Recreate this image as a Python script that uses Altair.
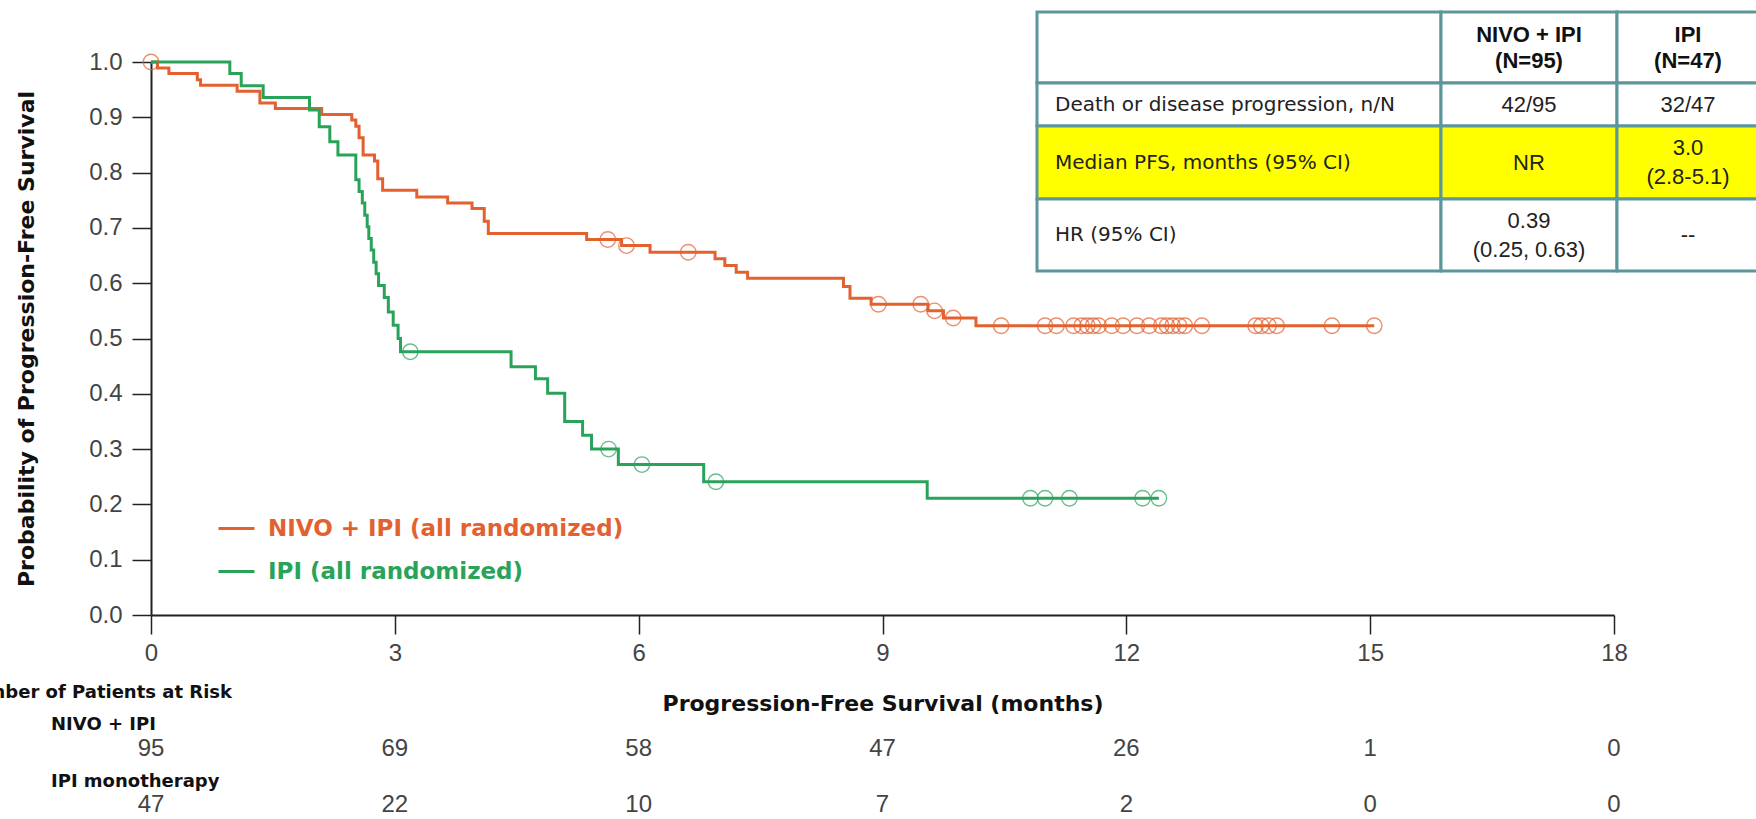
import altair as alt
import pandas as pd

NIVO = "NIVO + IPI (all randomized)"
IPI = "IPI (all randomized)"
ORANGE = "#e2612f"
GREEN = "#2aa35a"

# ---- Kaplan-Meier steps (time in months, survival after the step)
nivo_t = [0, 0.08, 0.22, 0.57, 0.61, 1.06, 1.34, 1.53, 2.10, 2.47, 2.52, 2.56, 2.61,
          2.75, 2.79, 2.85, 3.27, 3.65, 3.95, 4.10, 4.15, 5.36, 5.79, 6.14, 6.94, 7.06,
          7.20, 7.34, 8.52, 8.60, 8.86, 9.56, 9.75, 10.15, 15.05]
nivo_s = [1.0, 0.989, 0.979, 0.968, 0.958, 0.947, 0.926, 0.916, 0.905, 0.895, 0.884, 0.863, 0.832,
          0.821, 0.789, 0.768, 0.756, 0.745, 0.735, 0.712, 0.690, 0.679, 0.668, 0.656, 0.644, 0.632,
          0.620, 0.609, 0.594, 0.573, 0.562, 0.550, 0.537, 0.523, 0.523]
nivo_cens = [0.0, 5.62, 5.85, 6.61, 8.95, 9.47, 9.64, 9.87, 10.46, 11.00, 11.14, 11.35, 11.45,
             11.52, 11.59, 11.66, 11.82, 11.96, 12.13, 12.28, 12.43, 12.50, 12.57, 12.65, 12.72,
             12.93, 13.59, 13.66, 13.75, 13.85, 14.53, 15.05]

ipi_t = [0, 0.97, 1.11, 1.38, 1.95, 2.07, 2.20, 2.30, 2.52, 2.56, 2.60, 2.63, 2.66, 2.68, 2.71,
         2.74, 2.77, 2.80, 2.87, 2.92, 2.98, 3.04, 3.07, 4.43, 4.73, 4.88, 5.09, 5.31, 5.42,
         5.75, 6.80, 9.55, 12.40]
ipi_s = [1.0, 0.979, 0.957, 0.936, 0.913, 0.883, 0.856, 0.832, 0.787, 0.766, 0.745, 0.723, 0.702,
         0.681, 0.660, 0.638, 0.617, 0.596, 0.574, 0.548, 0.524, 0.500, 0.476, 0.449, 0.427,
         0.401, 0.350, 0.325, 0.300, 0.272, 0.241, 0.211, 0.211]
ipi_cens = [3.19, 5.63, 6.04, 6.95, 10.82, 11.00, 11.30, 12.20, 12.40]

# ---- number at risk
risk_times = [0, 3, 6, 9, 12, 15, 18]
risk_nivo = [95, 69, 58, 47, 26, 1, 0]
risk_ipi = [47, 22, 10, 7, 2, 0, 0]

x_ticks = [0, 3, 6, 9, 12, 15, 18]
y_ticks = [0.0, 0.1, 0.2, 0.3, 0.4, 0.5, 0.6, 0.7, 0.8, 0.9, 1.0]

# ---- summary table
table_header = ["", "NIVO + IPI\n(N=95)", "IPI\n(N=47)"]
table_rows = ["Death or disease progression, n/N", "Median PFS, months (95% CI)", "HR (95% CI)"]
table_nivo = ["42/95", "NR", "0.39\n(0.25, 0.63)"]
table_ipi = ["32/47", "3.0\n(2.8-5.1)", "--"]
highlight_row = 2  # yellow row (median PFS)

# layout of the table (pixels, relative to plot origin)
col_edges = [886, 1290, 1466, 1608]
row_edges = [-50, 21, 64, 137, 209]
VAL_LH = 29
HEAD_LH = 26

W, H = 1463, 553
FONT = "Liberation Sans, Arial, sans-serif"
BOLDFONT = "DejaVu Sans, Verdana, sans-serif"


def s_at(ts, ss, t):
    v = ss[0]
    for a, b in zip(ts, ss):
        if a <= t + 1e-9:
            v = b
    return v


curves = pd.DataFrame(
    [{"t": t, "s": s, "arm": NIVO} for t, s in zip(nivo_t, nivo_s)]
    + [{"t": t, "s": s, "arm": IPI} for t, s in zip(ipi_t, ipi_s)]
)
cens = pd.DataFrame(
    [{"t": t, "s": s_at(nivo_t, nivo_s, t), "arm": NIVO} for t in nivo_cens]
    + [{"t": t, "s": s_at(ipi_t, ipi_s, t), "arm": IPI} for t in ipi_cens]
)

xscale = alt.Scale(domain=[0, 18], nice=False, zero=False)
yscale = alt.Scale(domain=[0, 1], nice=False)
cscale = alt.Scale(domain=[NIVO, IPI], range=[ORANGE, GREEN])

xaxis = alt.Axis(values=x_ticks, format="d", grid=False, title="Progression-Free Survival (months)",
                 domainColor="#222", domainWidth=2, tickColor="#222", tickWidth=1.5, tickSize=19,
                 labelFont=FONT, labelFontSize=24, labelColor="#444", labelPadding=7,
                 labelFlush=False, labelOverlap=False,
                 titleFont=BOLDFONT, titleFontSize=22, titleFontWeight="bold", titleColor="#111",
                 titleY=88, titleBaseline="middle")
yaxis = alt.Axis(values=y_ticks, format=".1f", grid=False,
                 title="Probability of Progression-Free Survival",
                 domainColor="#222", domainWidth=2, tickColor="#222", tickWidth=1.5, tickSize=19,
                 labelFont=FONT, labelFontSize=24, labelColor="#444", labelPadding=10,
                 labelOverlap=False,
                 titleFont=BOLDFONT, titleFontSize=22, titleFontWeight="bold", titleColor="#111",
                 titleX=-125, titleY=H / 2, titleBaseline="middle", titleAngle=-90)

legend = alt.Legend(title=None, orient="none", legendX=66, legendY=447, symbolType="stroke",
                    symbolSize=1296, symbolStrokeWidth=3, labelFont=BOLDFONT, labelFontSize=23,
                    labelFontWeight="bold", labelOffset=12, rowPadding=11, padding=0, labelLimit=0,
                    labelColor={"expr": "datum.label == '%s' ? '%s' : '%s'" % (IPI, GREEN, ORANGE)})

lines = alt.Chart(curves).mark_line(interpolate="step-after", strokeWidth=3).encode(
    x=alt.X("t:Q", scale=xscale, axis=xaxis),
    y=alt.Y("s:Q", scale=yscale, axis=yaxis),
    color=alt.Color("arm:N", scale=cscale, legend=legend),
    detail="arm:N",
)
points = alt.Chart(cens).mark_point(shape="circle", filled=False, size=240, strokeWidth=1.4,
                                    opacity=0.7).encode(
    x=alt.X("t:Q", scale=xscale),
    y=alt.Y("s:Q", scale=yscale),
    color=alt.Color("arm:N", scale=cscale, legend=None),
)

risk_df = pd.DataFrame({"t": risk_times, "nivo": risk_nivo, "ipi": risk_ipi})
risk1 = alt.Chart(risk_df).mark_text(font=FONT, fontSize=24, color="#444", baseline="middle").encode(
    x=alt.X("t:Q", scale=xscale), y=alt.value(687), text="nivo:N")
risk2 = alt.Chart(risk_df).mark_text(font=FONT, fontSize=24, color="#444", baseline="middle").encode(
    x=alt.X("t:Q", scale=xscale), y=alt.value(743), text="ipi:N")


def label(txt, x, y, align):
    return alt.Chart(pd.DataFrame({"txt": [txt]})).mark_text(
        font=BOLDFONT, fontSize=18, fontWeight="bold", color="#111", align=align, baseline="middle"
    ).encode(x=alt.value(x), y=alt.value(y), text="txt:N")


risk_labels = [label("Number of Patients at Risk", 81, 631, "right"),
               label("NIVO + IPI", -100, 663, "left"),
               label("IPI monotherapy", -100, 720, "left")]

main = alt.layer(lines, points, risk1, risk2, *risk_labels)

# ---- table layers (identity pixel scales)
cells = []
for r in range(4):
    for c in range(3):
        cells.append({"x0": col_edges[c], "x1": col_edges[c + 1],
                      "y0": row_edges[r], "y1": row_edges[r + 1],
                      "fill": "#ffff00" if r == highlight_row else "#ffffff"})
cells = pd.DataFrame(cells)
rects = alt.Chart(cells).mark_rect(stroke="#5c959c", strokeWidth=3).encode(
    x=alt.X("x0:Q", scale=None), x2="x1:Q",
    y=alt.Y("y0:Q", scale=None), y2="y1:Q",
    fill=alt.Fill("fill:N", scale=None),
)


def rc(r):
    return (row_edges[r] + row_edges[r + 1]) / 2


def cc(c):
    return (col_edges[c] + col_edges[c + 1]) / 2


def first_line_y(center, txt, lh):
    n = txt.count("\n") + 1
    return center - (n - 1) * lh / 2


lab_df = pd.DataFrame({"txt": table_rows, "x": [col_edges[0] + 18] * 3, "y": [rc(1), rc(2), rc(3)]})
row_text = alt.Chart(lab_df).mark_text(font=BOLDFONT, fontSize=20, color="#222", align="left",
                                       baseline="middle").encode(
    x=alt.X("x:Q", scale=None), y=alt.Y("y:Q", scale=None), text="txt:N")

vals = table_nivo + table_ipi
val_df = pd.DataFrame({
    "txt": vals,
    "x": [cc(1)] * 3 + [cc(2)] * 3,
    "y": [first_line_y(rc(r), v, VAL_LH) for r, v in zip([1, 2, 3, 1, 2, 3], vals)],
})
val_text = alt.Chart(val_df).mark_text(font=FONT, fontSize=22, color="#222", align="center",
                                       baseline="middle", lineBreak="\n", lineHeight=VAL_LH).encode(
    x=alt.X("x:Q", scale=None), y=alt.Y("y:Q", scale=None), text="txt:N")

heads = table_header[1:]
head_df = pd.DataFrame({"txt": heads, "x": [cc(1), cc(2)],
                        "y": [first_line_y(rc(0), h, HEAD_LH) for h in heads]})
head_text = alt.Chart(head_df).mark_text(font=FONT, fontSize=22, fontWeight="bold", color="#111",
                                         align="center", baseline="middle", lineBreak="\n",
                                         lineHeight=HEAD_LH).encode(
    x=alt.X("x:Q", scale=None), y=alt.Y("y:Q", scale=None), text="txt:N")

table = alt.layer(rects, row_text, val_text, head_text)

chart = alt.layer(main, table).resolve_scale(x="independent", y="independent", color="independent").properties(
    width=W, height=H,
    autosize=alt.AutoSizeParams(type="none"),
    padding={"left": 151, "top": 62, "right": 142, "bottom": 204},
    background="white",
).configure_view(stroke=None)

chart.save("out.html", embed_options={"renderer": "svg", "actions": False})
